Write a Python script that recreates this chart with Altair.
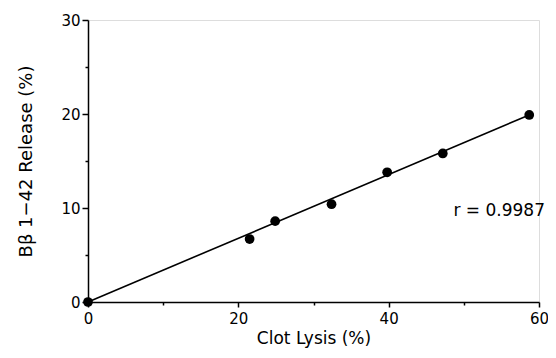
import altair as alt
import pandas as pd

clot_lysis = [0, 21.5, 24.9, 32.4, 39.8, 47.2, 58.7]
release = [0, 6.7, 8.6, 10.4, 13.8, 15.8, 19.9]
fit_x = [0, 58.7]
fit_y = [0, 19.9]
x_ticks = [0, 10, 20, 30, 40, 50, 60]
y_ticks = [0, 5, 10, 15, 20, 25, 30]

pts = pd.DataFrame({"x": clot_lysis, "y": release})
fit = pd.DataFrame({"x": fit_x, "y": fit_y})
ann = pd.DataFrame({"x": [60.0], "y": [9.7], "t": ["r = 0.9987"]})

FONT = "DejaVu Sans"
x_tick_cond = {"condition": {"test": "datum.value % 20 === 0", "value": 5}, "value": 3}
y_tick_cond = {"condition": {"test": "datum.value % 10 === 0", "value": 6}, "value": 3}
x_lab = "datum.value % 20 === 0 ? datum.label : ''"
y_lab = "datum.value % 10 === 0 ? datum.label : ''"

xs = alt.Scale(domain=[0, 60], nice=False)
ys = alt.Scale(domain=[0, 30], nice=False)

common = dict(grid=False, domainColor="black", domainWidth=1.5, tickColor="black", tickWidth=1.5,
              labelFont=FONT, labelFontSize=15, labelColor="black", labelFlush=False,
              titleFont=FONT, titleFontWeight="normal", titleColor="black")

xaxis = alt.Axis(values=x_ticks, labelExpr=x_lab, tickSize=x_tick_cond, title="Clot Lysis (%)",
                 labelPadding=4, titlePadding=4, titleFontSize=17, **common)
yaxis = alt.Axis(values=y_ticks, labelExpr=y_lab, tickSize=y_tick_cond, title="Bβ 1\u221242 Release (%)",
                 labelPadding=2, titlePadding=25, titleFontSize=18, **common)

line = alt.Chart(fit).mark_line(color="black", strokeWidth=1.6, clip=False).encode(
    x=alt.X("x:Q", scale=xs, axis=xaxis),
    y=alt.Y("y:Q", scale=ys, axis=yaxis),
)
points = alt.Chart(pts).mark_circle(color="black", opacity=1, size=95, clip=False).encode(
    x=alt.X("x:Q", scale=xs),
    y=alt.Y("y:Q", scale=ys),
)
text = alt.Chart(ann).mark_text(font=FONT, fontSize=17, align="right", baseline="middle",
                                color="black", dx=6).encode(
    x=alt.X("x:Q", scale=xs),
    y=alt.Y("y:Q", scale=ys),
    text="t:N",
)

chart = alt.layer(line, points, text).properties(
    width=451, height=282,
    autosize=alt.AutoSizeParams(type="none"),
    padding={"left": 80, "top": 12, "right": 9, "bottom": 48},
).configure_view(stroke=None).configure(background="white")

chart.save("out.html", embed_options={"renderer": "svg", "actions": False})
